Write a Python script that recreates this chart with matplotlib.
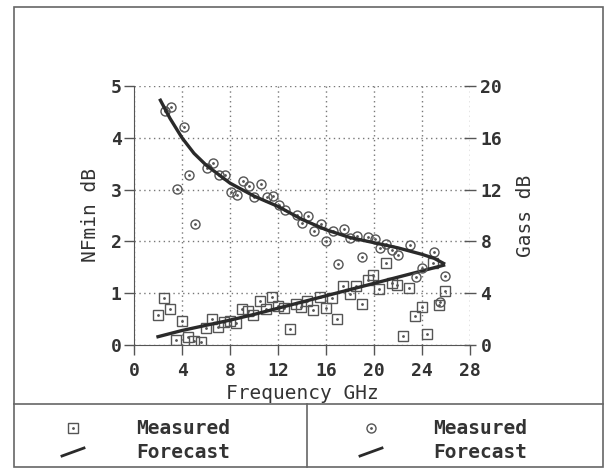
import matplotlib
matplotlib.use('Agg')
import matplotlib.pyplot as plt
from matplotlib.lines import Line2D
from matplotlib.patches import Rectangle

# NFmin gemessen (GHz, dB)
nf_freq = [2.0, 2.5, 3.0, 3.5, 4.0, 4.5, 5.0, 5.6, 6.0, 6.5, 7.0, 7.5, 8.0, 8.5,
           9.0, 9.5, 9.9, 10.5, 11.0, 11.5, 12.0, 12.5, 13.0, 13.5, 13.9, 14.4,
           14.9, 15.5, 16.0, 16.5, 16.9, 17.4, 18.0, 18.5, 19.0, 19.5, 19.9,
           20.4, 21.0, 21.5, 21.9, 22.4, 22.9, 23.4, 24.0, 24.4, 24.9, 25.4, 25.9]
nf_meas = [0.57, 0.90, 0.69, 0.10, 0.47, 0.16, 0.08, 0.05, 0.33, 0.50, 0.35, 0.44,
           0.46, 0.42, 0.69, 0.66, 0.58, 0.85, 0.69, 0.93, 0.75, 0.72, 0.30, 0.80,
           0.73, 0.85, 0.68, 0.92, 0.72, 0.91, 0.50, 1.14, 0.98, 1.13, 0.80, 1.25,
           1.35, 1.09, 1.58, 1.19, 1.16, 0.17, 1.11, 0.56, 0.73, 0.21, 1.59, 0.77, 1.05]

# NFmin Prognose
nf_fc_freq = [2, 4, 6, 8, 10, 12, 14, 16, 18, 20, 22, 24, 25.8]
nf_fc = [0.16, 0.28, 0.38, 0.48, 0.59, 0.71, 0.83, 0.95, 1.07, 1.19, 1.31, 1.43, 1.54]

# Gass gemessen (GHz, dB)
ga_freq = [2.6, 3.1, 3.6, 4.2, 4.6, 5.1, 6.1, 6.6, 7.1, 7.6, 8.1, 8.6, 9.1, 9.6,
           10.0, 10.6, 11.1, 11.6, 12.1, 12.6, 13.6, 14.0, 14.5, 15.0, 15.6, 16.0,
           16.6, 17.0, 17.5, 18.0, 18.6, 19.0, 19.5, 20.1, 20.5, 21.0, 21.5, 22.0,
           23.0, 23.5, 24.0, 25.0, 25.9, 25.5]
ga_meas = [18.05, 18.35, 12.07, 16.8, 13.1, 9.37, 13.7, 14.05, 13.15, 13.15, 11.8,
           11.56, 12.7, 12.3, 11.4, 12.4, 11.4, 11.5, 10.8, 10.45, 10.06, 9.42, 9.94,
           8.78, 9.34, 8.0, 8.83, 6.28, 8.96, 8.26, 8.39, 6.77, 8.32, 8.19, 7.49,
           7.82, 7.31, 6.93, 7.75, 5.23, 5.95, 7.18, 5.35, 3.35]

# Gass Prognose
ga_fc_freq = [2.2, 3, 4, 5, 6, 7, 8, 9, 10, 11, 12, 13, 14, 15, 16, 17, 18, 19,
              20, 21, 22, 23, 24, 25, 25.8]
ga_fc = [18.9, 17.5, 16.0, 14.8, 13.9, 13.2, 12.5, 12.0, 11.5, 11.1, 10.7, 10.2,
         9.7, 9.3, 8.9, 8.6, 8.3, 8.1, 7.9, 7.7, 7.5, 7.25, 7.0, 6.7, 6.3]

plt.rcParams['font.family'] = ['DejaVu Sans Mono']
plt.rcParams['font.weight'] = 'bold'
txt = '#333333'
W, H = 605, 470

fig = plt.figure(figsize=(W / 100, H / 100), dpi=100)
ax = fig.add_axes([134 / W, 1 - 345 / H, 336 / W, 259 / H])
ax2 = ax.twinx()

dots = (0, (1, 2.5))
mk = dict(ls='none', mfc='none', mec='#555555', mew=1.0, ms=6.5)

ax.plot(nf_freq, nf_meas, marker='s', **mk)
ax.plot(nf_freq, nf_meas, ls='none', marker='.', ms=2, color='#555555')
ax.plot(nf_fc_freq, nf_fc, color='#2a2a2a', lw=2.4)

ax2.plot(ga_freq, ga_meas, marker='o', **mk)
ax2.plot(ga_freq, ga_meas, ls='none', marker='.', ms=2, color='#555555')
ax2.plot(ga_fc_freq, ga_fc, color='#2a2a2a', lw=2.4)

ax.set_xlim(0, 28)
ax.set_ylim(0, 5)
ax2.set_ylim(0, 20)
ax.set_xticks(range(0, 29, 4))
ax.set_yticks(range(0, 6))
ax2.set_yticks(range(0, 21, 4))
ax.grid(True, color='#777777', ls=dots, lw=1)

for a in (ax, ax2):
    for s in ('top', 'right'):
        a.spines[s].set_visible(False)
ax2.spines['left'].set_visible(False)
ax2.spines['bottom'].set_visible(False)
ax.spines['left'].set_color('#555555')
ax.spines['bottom'].set_color('#555555')

ax.tick_params(axis='x', length=7, width=1, color='#555555', pad=5,
               labelsize=13, labelcolor=txt)
ax.tick_params(axis='y', length=7, width=1, color='#555555', pad=2,
               labelsize=13, labelcolor=txt)
ax2.tick_params(axis='y', direction='inout', length=9, width=1, color='#555555',
                pad=3, labelsize=13, labelcolor=txt)

ax.set_xlabel('Frequency GHz', fontsize=14, color=txt, labelpad=3)
ax.set_ylabel('NFmin dB', fontsize=14, color=txt, labelpad=8)
ax2.set_ylabel('Gass dB', fontsize=14, color=txt, labelpad=10)

# Rahmen und Legendenfeld
fig.add_artist(Rectangle((14 / W, 1 - 467 / H), 589 / W, 460 / H, fill=False,
                         ec='#666666', lw=1.2, transform=fig.transFigure))
fig.add_artist(Line2D([14 / W, 603 / W], [1 - 404 / H, 1 - 404 / H],
                      color='#666666', lw=1.2, transform=fig.transFigure))
fig.add_artist(Line2D([307 / W, 307 / W], [1 - 404 / H, 1 - 467 / H],
                      color='#666666', lw=1.2, transform=fig.transFigure))

def legend_part(x_mark, x_text, marker):
    fig.add_artist(Line2D([x_mark / W], [1 - 428 / H], marker=marker,
                          transform=fig.transFigure, **mk))
    fig.add_artist(Line2D([x_mark / W], [1 - 428 / H], marker='.', ms=2,
                          color='#555555', transform=fig.transFigure))
    fig.add_artist(Line2D([(x_mark - 11) / W, (x_mark + 11) / W],
                          [1 - 456 / H, 1 - 448 / H], color='#2a2a2a', lw=2,
                          transform=fig.transFigure))
    fig.text(x_text / W, 1 - 428 / H, 'Measured', fontsize=14, color=txt,
             va='center', ha='left')
    fig.text(x_text / W, 1 - 452 / H, 'Forecast', fontsize=14, color=txt,
             va='center', ha='left')

legend_part(73, 136, 's')
legend_part(371, 433, 'o')

fig.savefig('out.png', dpi=100)
